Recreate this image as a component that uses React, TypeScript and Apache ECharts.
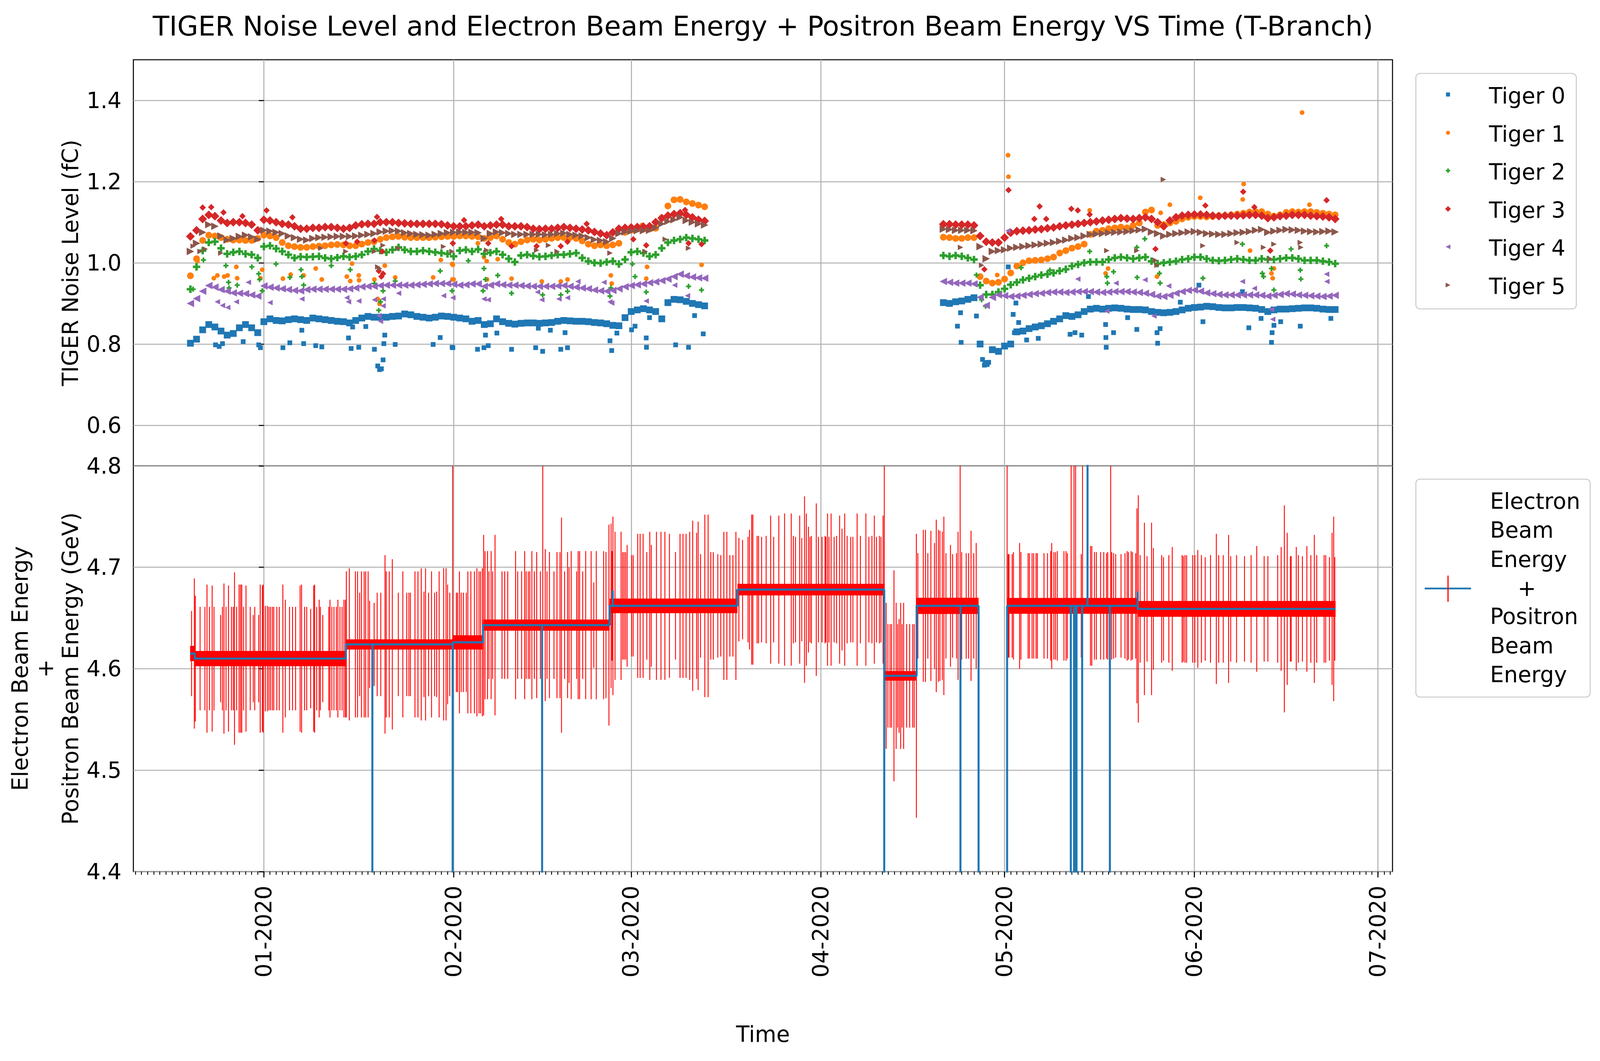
import React, { useEffect, useRef } from 'react';
import * as echarts from 'echarts';

// ---------- axis / tick data ----------
const XMIN = -21.32; // days since 2020-01-01
const XMAX = 184.37;
const MONTH_DAYS = [0, 31, 60, 91, 121, 152, 182];
const MONTH_LABELS = ['01-2020', '02-2020', '03-2020', '04-2020', '05-2020', '06-2020', '07-2020'];
const NOISE_TICKS = [0.6, 0.8, 1.0, 1.2, 1.4];
const ENERGY_TICKS = [4.4, 4.5, 4.6, 4.7, 4.8];

// ---------- top panel: TIGER noise (fC), one value per day ----------
const START_A = -12; // first day of first run
const START_B = 111; // first day of second run

const T0_A = [0.802,0.812,0.835,0.848,0.842,0.832,0.822,0.826,0.840,0.848,0.840,0.828,
  0.855,0.862,0.858,0.857,0.860,0.862,0.860,0.858,0.864,0.862,
  0.860,0.858,0.856,0.855,0.852,0.858,0.864,0.868,0.866,0.866,
  0.866,0.868,0.869,0.874,0.872,0.868,0.866,0.864,0.866,0.869,
  0.868,0.866,0.864,0.862,0.856,0.858,0.848,0.850,0.862,0.855,
  0.851,0.849,0.851,0.852,0.852,0.851,0.852,0.853,0.856,0.858,
  0.857,0.856,0.856,0.855,0.853,0.852,0.850,0.846,0.845,0.865,
  0.880,0.884,0.887,0.884,0.880,0.862,0.902,0.910,0.909,0.905,
  0.900,0.897,0.894];
const T1_A = [0.968,1.010,1.055,1.068,1.066,1.062,1.058,1.056,1.056,1.055,1.055,1.060,
  1.068,1.066,1.062,1.050,1.042,1.040,1.038,1.038,1.040,1.041,
  1.042,1.044,1.045,1.044,1.042,1.042,1.046,1.050,1.052,1.058,
  1.062,1.064,1.065,1.063,1.062,1.062,1.062,1.062,1.063,1.064,
  1.065,1.065,1.066,1.066,1.065,1.064,1.060,1.062,1.066,1.058,
  1.050,1.046,1.052,1.056,1.058,1.056,1.058,1.060,1.062,1.062,
  1.062,1.060,1.054,1.046,1.042,1.044,1.042,1.044,1.048,1.075,
  1.080,1.083,1.083,1.083,1.085,1.110,1.140,1.155,1.156,1.150,
  1.146,1.142,1.138];
const T2_A = [0.935,0.990,1.030,1.050,1.052,1.036,1.022,1.026,1.028,1.022,1.020,1.012,
  1.040,1.042,1.035,1.028,1.020,1.012,1.015,1.014,1.015,1.016,
  1.012,1.010,1.013,1.016,1.014,1.016,1.020,1.028,1.034,1.030,
  1.026,1.032,1.038,1.032,1.028,1.028,1.030,1.028,1.026,1.024,
  1.022,1.016,1.030,1.032,1.028,1.033,1.022,1.025,1.028,1.020,
  1.010,1.002,1.018,1.020,1.017,1.015,1.016,1.018,1.020,1.020,
  1.022,1.024,1.012,1.004,1.000,0.999,1.002,1.004,0.997,1.008,
  1.026,1.028,1.024,1.016,1.020,1.036,1.050,1.055,1.058,1.062,
  1.060,1.058,1.055];
const T3_A = [1.065,1.080,1.108,1.118,1.115,1.104,1.098,1.100,1.100,1.098,1.094,1.080,
  1.106,1.104,1.100,1.096,1.094,1.090,1.084,1.084,1.086,1.086,
  1.088,1.088,1.086,1.084,1.086,1.092,1.095,1.096,1.096,1.100,
  1.100,1.100,1.098,1.097,1.096,1.096,1.096,1.096,1.096,1.095,
  1.092,1.090,1.090,1.090,1.092,1.094,1.090,1.092,1.094,1.094,
  1.090,1.090,1.090,1.088,1.084,1.083,1.084,1.084,1.086,1.088,
  1.086,1.084,1.082,1.080,1.076,1.072,1.068,1.075,1.084,1.086,
  1.087,1.088,1.089,1.090,1.100,1.110,1.116,1.120,1.122,1.118,
  1.112,1.106,1.103];
const T4_A = [0.900,0.912,0.930,0.944,0.940,0.934,0.930,0.926,0.925,0.924,0.921,0.918,
  0.943,0.940,0.938,0.936,0.934,0.932,0.931,0.934,0.935,0.935,
  0.935,0.935,0.935,0.935,0.936,0.938,0.941,0.942,0.942,0.944,
  0.945,0.945,0.945,0.945,0.945,0.946,0.947,0.948,0.949,0.949,
  0.949,0.947,0.945,0.946,0.948,0.948,0.942,0.945,0.948,0.946,
  0.945,0.945,0.944,0.943,0.942,0.942,0.942,0.942,0.943,0.944,
  0.942,0.940,0.938,0.936,0.933,0.931,0.930,0.932,0.936,0.941,
  0.944,0.946,0.948,0.951,0.953,0.956,0.960,0.966,0.972,0.968,
  0.965,0.963,0.962];
const T5_A = [1.028,1.048,1.075,1.094,1.090,1.066,1.056,1.060,1.065,1.068,1.064,1.058,
  1.080,1.078,1.075,1.072,1.066,1.062,1.058,1.056,1.060,1.062,
  1.063,1.064,1.065,1.065,1.065,1.066,1.068,1.070,1.072,1.076,
  1.078,1.079,1.078,1.074,1.072,1.070,1.069,1.068,1.070,1.072,
  1.074,1.075,1.076,1.075,1.075,1.074,1.060,1.072,1.076,1.074,
  1.072,1.070,1.070,1.070,1.070,1.070,1.069,1.070,1.072,1.073,
  1.070,1.068,1.066,1.062,1.057,1.055,1.052,1.060,1.072,1.076,
  1.078,1.079,1.079,1.080,1.086,1.096,1.102,1.106,1.112,1.104,
  1.100,1.096,1.093];

const T0_B = [0.902,0.900,0.904,0.906,0.910,0.914,0.800,0.752,0.786,0.782,
  0.795,0.800,0.830,0.832,0.838,0.842,0.845,0.850,0.856,0.862,
  0.870,0.868,0.872,0.880,0.886,0.888,0.886,0.888,0.889,0.888,
  0.886,0.885,0.885,0.884,0.880,0.878,0.877,0.878,0.880,0.884,
  0.888,0.890,0.891,0.893,0.892,0.890,0.889,0.889,0.890,0.890,
  0.889,0.888,0.885,0.880,0.884,0.886,0.886,0.887,0.888,0.889,
  0.889,0.888,0.886,0.885,0.885];
const T1_B = [1.063,1.062,1.060,1.060,1.062,1.062,0.966,0.955,0.950,0.952,
  0.960,0.975,0.992,1.000,1.005,1.006,1.007,1.010,1.014,1.024,
  1.030,1.036,1.040,1.046,1.070,1.078,1.080,1.084,1.086,1.088,
  1.086,1.092,1.098,1.125,1.130,1.092,1.094,1.098,1.102,1.108,
  1.112,1.114,1.114,1.113,1.114,1.116,1.116,1.118,1.120,1.122,
  1.125,1.126,1.126,1.120,1.115,1.118,1.124,1.126,1.125,1.126,
  1.126,1.124,1.122,1.120,1.118];
const T2_B = [1.018,1.016,1.018,1.016,1.012,1.008,0.945,0.922,0.922,0.928,
  0.936,0.946,0.952,0.958,0.962,0.966,0.970,0.972,0.975,0.980,
  0.984,0.992,0.996,1.000,1.002,1.002,1.002,1.008,1.012,1.014,
  1.012,1.010,1.012,1.014,1.004,0.998,1.000,1.002,1.004,1.008,
  1.010,1.014,1.014,1.010,1.006,1.005,1.006,1.008,1.010,1.008,
  1.006,1.006,1.010,1.008,1.008,1.010,1.012,1.012,1.010,1.006,
  1.006,1.006,1.004,1.002,0.998];
const T3_B = [1.095,1.095,1.094,1.094,1.094,1.092,1.066,1.052,1.050,1.050,
  1.062,1.074,1.078,1.079,1.080,1.082,1.083,1.085,1.087,1.090,
  1.092,1.094,1.096,1.098,1.100,1.102,1.104,1.106,1.108,1.110,
  1.109,1.108,1.110,1.112,1.108,1.100,1.090,1.104,1.112,1.116,
  1.118,1.119,1.119,1.118,1.116,1.115,1.116,1.116,1.116,1.117,
  1.118,1.118,1.116,1.110,1.112,1.115,1.116,1.118,1.118,1.118,
  1.116,1.115,1.114,1.112,1.108];
const T4_B = [0.954,0.952,0.950,0.950,0.950,0.948,0.915,0.895,0.915,0.921,
  0.919,0.917,0.918,0.920,0.922,0.924,0.925,0.927,0.928,0.928,
  0.927,0.928,0.929,0.929,0.929,0.928,0.927,0.928,0.929,0.929,
  0.929,0.928,0.927,0.925,0.922,0.918,0.917,0.920,0.925,0.929,
  0.932,0.933,0.930,0.926,0.924,0.922,0.921,0.921,0.921,0.921,
  0.921,0.921,0.920,0.918,0.920,0.922,0.924,0.923,0.921,0.920,
  0.919,0.918,0.917,0.918,0.920];
const T5_B = [1.083,1.082,1.080,1.080,1.080,1.079,1.040,1.010,1.028,1.030,
  1.032,1.036,1.038,1.040,1.042,1.044,1.046,1.048,1.050,1.053,
  1.056,1.060,1.062,1.066,1.070,1.071,1.072,1.074,1.075,1.076,
  1.077,1.079,1.081,1.083,1.076,1.072,1.066,1.070,1.072,1.074,
  1.076,1.077,1.075,1.072,1.071,1.070,1.070,1.072,1.074,1.075,
  1.077,1.080,1.082,1.075,1.078,1.080,1.082,1.081,1.080,1.078,
  1.077,1.076,1.077,1.078,1.076];

// scattered readings away from each band: [day, fC]
const T0_OUT = [[-7.9,0.798],[-7.3,0.794],[-6.76,0.801],[-3.38,0.806],[-0.84,0.798],[-0.56,0.791],[3.11,0.791],[4.24,0.803],[6.2,0.834],[6.5,0.801],[8.47,0.796],[9.46,0.793],[13.83,0.815],[14.25,0.789],[14.5,0.842],[15.5,0.792],[16.65,0.843],[18.06,0.787],[18.6,0.746],[18.9,0.737],[19.2,0.739],[19.47,0.761],[19.6,0.801],[19.75,0.822],[21.45,0.799],[27.65,0.799],[28.8,0.816],[30.75,0.792],[30.87,0.791],[34.9,0.787],[35.95,0.791],[36.2,0.822],[36.65,0.796],[38.06,0.827],[40.46,0.787],[44.4,0.791],[44.83,0.839],[45.54,0.782],[46.8,0.834],[48.5,0.787],[49.2,0.828],[49.6,0.791],[56.54,0.808],[56.82,0.784],[57.67,0.827],[60.06,0.835],[60.63,0.844],[62.46,0.815],[62.5,0.792],[63.0,0.865],[67.26,0.798],[69.37,0.792],[70.36,0.870],[71.77,0.825],
  [113.3,0.844],[113.8,0.877],[113.9,0.804],[116.4,0.869],[117.4,0.762],[117.7,0.748],[118.4,0.755],[121.6,0.99],[122.4,0.873],[122.6,0.828],[123.3,0.853],[122.85,0.901],[124.6,0.81],[126.5,0.814],[131.7,0.824],[132.5,0.828],[133.6,0.822],[134.7,0.917],[137.5,0.848],[137.55,0.816],[137.6,0.792],[138.8,0.828],[141.1,0.865],[142.6,0.836],[145.9,0.828],[146.0,0.802],[146.4,0.838],[149.7,0.903],[152.75,0.945],[153.4,0.855],[159.85,0.929],[160.9,0.840],[162.9,0.863],[164.6,0.804],[164.7,0.828],[165.0,0.846],[166.1,0.855],[169.3,0.844],[174.3,0.863]];
const T1_OUT = [[-10.85,1.004],[-8.17,0.962],[-7.6,0.969],[-6.48,0.966],[-5.92,0.969],[-4.5,0.990],[-4.36,0.962],[-0.56,0.962],[-0.27,0.983],[3.11,0.961],[4.38,0.971],[6.5,0.969],[8.47,0.986],[9.46,0.959],[13.55,0.966],[14.11,0.955],[14.4,0.998],[15.5,0.969],[15.55,0.957],[18.06,0.959],[18.6,0.911],[18.9,0.899],[19.75,0.993],[21.45,0.964],[27.65,0.964],[28.9,1.007],[30.75,0.997],[30.8,0.959],[30.87,0.995],[31.0,0.959],[34.96,1.048],[35.95,1.014],[36.4,1.004],[36.45,0.959],[38.2,1.009],[40.46,0.961],[45.4,0.954],[48.5,0.954],[49.6,0.959],[56.68,0.969],[56.82,0.949],[61.76,1.093],[62.6,0.990],[62.46,0.961],[71.5,0.995],
  [119.8,0.970],[121.56,1.265],[121.64,1.212],[134.9,1.129],[137.5,0.974],[137.9,0.986],[145.9,0.966],[146.5,1.123],[148.0,1.143],[152.96,1.160],[159.9,1.156],[160.06,1.194],[161.1,1.030],[164.6,0.974],[164.8,0.962],[165.0,0.986],[169.6,1.370],[170.8,1.143]];
const T2_OUT = [[-11.56,0.935],[-9.87,1.007],[-6.2,0.993],[-5.77,0.952],[-5.69,0.938],[-4.36,0.945],[-1.97,0.990],[-0.84,0.973],[-0.7,0.959],[-0.27,0.931],[1.98,0.997],[4.24,0.964],[6.07,0.983],[6.2,0.966],[6.5,0.945],[11.01,0.993],[14.11,0.983],[18.06,0.949],[18.77,0.883],[19.05,0.904],[19.47,0.931],[21.45,0.955],[28.8,0.980],[30.75,0.931],[33.4,1.005],[35.95,0.986],[36.2,0.959],[35.8,0.931],[38.2,0.969],[40.46,0.925],[45.54,0.921],[48.5,0.921],[49.6,0.930],[56.68,0.938],[56.54,0.918],[60.2,0.997],[60.63,0.966],[62.46,0.928],[69.37,0.942],[71.49,0.933],
  [116.4,0.970],[117.25,0.909],[117.9,0.893],[123.7,0.988],[128.4,0.982],[134.9,1.028],[137.7,0.966],[137.8,0.950],[138.8,0.978],[142.6,1.038],[143.9,1.059],[142.65,0.964],[146.3,0.974],[146.4,0.950],[153.4,0.962],[159.85,1.046],[163.1,0.974],[163.3,0.966],[165.0,0.933],[164.6,0.986],[167.8,1.034],[169.3,0.982],[169.4,0.960],[173.6,1.042]];
const T3_OUT = [[-10.0,1.136],[-8.6,1.137],[-6.6,1.124],[-3.5,1.115],[0.43,1.129],[4.66,1.112],[13.4,1.048],[15.24,1.052],[18.06,1.055],[18.48,1.113],[18.77,0.980],[19.2,0.966],[19.47,0.973],[19.33,1.028],[30.87,1.048],[32.7,1.105],[36.65,1.048],[38.77,1.108],[40.46,1.041],[44.55,1.041],[48.5,1.041],[49.6,1.052],[52.73,1.096],[60.35,1.058],[62.46,1.043],[68.8,1.130],[69.37,1.048],[71.5,1.046],
  [117.7,0.984],[121.64,1.179],[125.86,1.108],[126.72,1.139],[127.8,1.108],[131.9,1.133],[132.96,1.129],[134.9,1.119],[145.65,1.034],[153.8,1.141],[159.98,1.175],[161.8,1.137],[164.4,1.030],[173.6,1.154]];
const T4_OUT = [[-7.6,0.904],[-6.76,0.895],[-5.9,0.890],[-4.5,0.904],[-2.53,0.952],[1.0,0.902],[6.2,0.911],[13.55,0.914],[13.83,0.904],[15.5,0.906],[18.06,0.909],[18.77,0.870],[19.05,0.856],[19.47,0.894],[19.5,0.911],[22.0,0.925],[29.35,0.919],[30.87,0.914],[35.95,0.911],[36.65,0.909],[44.7,0.928],[45.4,0.909],[48.2,0.911],[49.6,0.914],[51.3,0.954],[55.55,0.952],[56.54,0.904],[56.82,0.901],[62.46,0.906],[67.1,0.945],[69.2,0.919],
  [121.56,1.079],[132.96,0.960],[137.7,0.881],[139.2,0.950],[143.93,0.958],[145.4,0.869],[147.8,0.943],[159.85,0.954],[161.8,0.937],[164.6,0.885],[164.8,0.861],[173.6,0.972],[173.65,0.954]];
const T5_OUT = [[-11.56,1.041],[-10.43,1.028],[-9.58,1.034],[-7.04,1.024],[9.32,1.036],[13.4,1.028],[18.06,1.028],[18.6,0.990],[18.9,0.986],[19.47,1.043],[22.0,1.036],[29.35,1.040],[30.73,1.028],[36.4,1.031],[44.55,1.031],[46.5,1.043],[47.9,1.028],[56.54,1.024],[62.3,1.028],[65.56,1.058],[69.37,1.036],
  [113.8,1.038],[117.25,0.994],[137.7,1.030],[142.6,1.030],[145.65,1.006],[145.9,0.994],[146.94,1.205],[153.4,1.042],[158.99,1.050],[163.3,1.038],[164.4,1.010],[165.0,1.046],[169.3,1.050],[169.4,1.038]];

const TIGER_NAMES = ['Tiger 0', 'Tiger 1', 'Tiger 2', 'Tiger 3', 'Tiger 4', 'Tiger 5'];
const TIGER_COLORS = ['#1f77b4', '#ff7f0e', '#2ca02c', '#d62728', '#9467bd', '#8c564b'];

// ---------- bottom panel: beam energy (GeV) ----------
// runs of constant energy: start day, end day, value, half-height of the dense red band
const SEG_START = [-12.05, -11.3, 13.4, 30.85, 35.8, 56.48, 77.36, 101.35, 106.63, 116.75, 121.41, 142.74];
const SEG_END = [-11.3, 13.4, 30.85, 35.8, 56.48, 77.36, 101.35, 106.63, 116.75, 121.41, 142.74, 175.07];
const SEG_VALUE = [4.615, 4.610, 4.624, 4.626, 4.643, 4.662, 4.678, 4.593, 4.662, 4.30, 4.662, 4.659];
const SEG_BAND = [0.0075, 0.0075, 0.005, 0.007, 0.0055, 0.0072, 0.0057, 0.0047, 0.008, 0, 0.0078, 0.0078];

// single excursions of the energy line: day, value reached
const SPIKE_DAY = [17.72, 30.84, 45.45, 57.0, 101.34, 113.79, 131.82, 132.35, 132.55, 132.75, 133.67, 134.55, 138.2, 142.75];
const SPIKE_TO = [4.3, 4.3, 4.3, 4.677, 4.3, 4.3, 4.3, 4.3, 4.3, 4.3, 4.3, 4.9, 4.3, 4.676];
// error bars that run off the top of the axes
const RED_SPIKE_DAY = [30.85, 45.56, 101.35, 113.74, 121.41, 131.87, 132.34, 132.6, 133.73, 138.33];

// long error bars: [day, half-width GeV]
const ERR_BARS = [
  [-11.81,0.042],[-11.36,0.074],[-11.2,0.062],[-10.42,0.051],[-9.63,0.051],[-9.29,0.073],[-8.9,0.051],[-8.45,0.072],[-8.15,0.051],[-7.07,0.043],[-6.77,0.051],[-6.52,0.074],[-6.18,0.051],[-5.78,0.072],[-5.29,0.051],[-4.99,0.051],[-4.8,0.085],[-4.45,0.051],[-4.05,0.073],[-3.81,0.073],[-3.61,0.073],[-3.32,0.051],[-2.92,0.072],[-2.23,0.051],[-1.73,0.043],[-1.49,0.051],[-0.85,0.043],[-0.6,0.073],[-0.25,0.072],[-0.11,0.073],[0.24,0.052],[0.58,0.052],[0.83,0.051],[1.08,0.051],[1.38,0.051],[1.62,0.051],[2.12,0.051],[2.51,0.051],[3.1,0.073],[3.5,0.058],[4.19,0.051],[4.68,0.051],[5.18,0.051],[5.92,0.072],[6.16,0.073],[6.66,0.051],[7.0,0.051],[7.64,0.049],[8.14,0.072],[8.29,0.073],[8.63,0.051],[9.03,0.058],[9.23,0.051],[9.62,0.043],[10.61,0.051],[10.8,0.058],[11.1,0.051],[11.45,0.051],[11.84,0.051],[12.09,0.058],[12.43,0.051],[12.78,0.051],[13.08,0.058],[13.32,0.058],
  [13.47,0.072],[13.96,0.075],[14.95,0.072],[15.3,0.072],[15.64,0.051],[15.94,0.072],[16.38,0.072],[16.63,0.072],[17.03,0.072],[17.27,0.043],[18.01,0.041],[18.51,0.051],[19.1,0.051],[19.79,0.088],[19.99,0.072],[20.48,0.072],[20.98,0.084],[21.96,0.051],[22.7,0.072],[23.34,0.051],[23.69,0.051],[23.94,0.051],[24.68,0.072],[25.17,0.072],[25.71,0.075],[26.16,0.052],[26.41,0.075],[26.9,0.051],[27.39,0.072],[27.89,0.051],[28.23,0.052],[28.63,0.072],[29.37,0.075],[29.76,0.075],[30.01,0.059],[30.36,0.051],
  [31.44,0.049],[31.64,0.049],[31.94,0.070],[32.23,0.049],[32.58,0.049],[33.07,0.049],[33.32,0.070],[33.81,0.070],[34.4,0.070],[34.8,0.073],[35.14,0.070],[35.39,0.070],[35.69,0.073],
  [35.9,0.089],[36.13,0.073],[36.53,0.073],[36.77,0.053],[37.12,0.073],[37.37,0.053],[37.76,0.089],[38.9,0.053],[39.34,0.053],[39.84,0.053],[41.12,0.073],[41.46,0.053],[42.1,0.053],[42.6,0.073],[42.85,0.053],[43.19,0.053],[43.44,0.053],[43.78,0.073],[44.18,0.053],[44.57,0.072],[45.17,0.053],[45.96,0.075],[46.25,0.053],[46.65,0.072],[47.39,0.053],[47.88,0.072],[48.38,0.072],[48.62,0.106],[49.12,0.053],[49.61,0.072],[49.86,0.057],[50.2,0.073],[51.09,0.053],[51.34,0.073],[51.58,0.073],[52.08,0.053],[52.57,0.073],[53.46,0.073],[53.9,0.042],[54.3,0.073],[55.5,0.073],[55.88,0.072],[56.37,0.099],
  [56.72,0.081],[56.87,0.054],[57.02,0.088],[57.36,0.073],[58.35,0.073],[58.6,0.053],[58.84,0.053],[59.09,0.053],[59.34,0.060],[60.08,0.050],[60.33,0.050],[61.07,0.071],[61.46,0.071],[61.95,0.071],[62.55,0.053],[63.04,0.073],[63.29,0.060],[64.13,0.073],[64.87,0.073],[65.51,0.073],[66.25,0.071],[67.24,0.053],[67.98,0.071],[68.47,0.071],[68.97,0.071],[69.56,0.073],[70.05,0.084],[70.69,0.072],[70.94,0.083],[71.33,0.051],[72.03,0.090],[72.57,0.090],[73.01,0.053],[73.41,0.053],[74.15,0.051],[74.64,0.050],[75.14,0.073],[75.63,0.073],[76.12,0.050],[76.62,0.050],[77.11,0.073],
  [77.6,0.051],[78.2,0.049],[79.09,0.052],[79.33,0.059],[79.68,0.074],[79.88,0.074],[80.57,0.053],[80.81,0.053],[81.31,0.052],[82.05,0.053],[82.79,0.073],[83.28,0.052],[84.12,0.073],[85.06,0.075],[86.15,0.075],[86.49,0.053],[86.84,0.052],[87.53,0.073],[87.87,0.051],[88.32,0.092],[88.61,0.075],[88.96,0.062],[89.21,0.052],[89.45,0.053],[90.24,0.085],[90.59,0.052],[91.18,0.052],[91.67,0.053],[91.82,0.052],[92.07,0.075],[92.32,0.052],[92.66,0.075],[93.16,0.052],[93.55,0.053],[94.05,0.073],[94.44,0.060],[94.88,0.075],[95.28,0.053],[95.87,0.052],[96.22,0.052],[96.91,0.075],[97.45,0.053],[98.34,0.075],[98.83,0.052],[99.33,0.053],[99.72,0.073],[100.07,0.052],[100.56,0.053],[100.81,0.052],[101.15,0.073],
  [101.65,0.072],[101.94,0.051],[102.29,0.051],[102.54,0.051],[102.93,0.104],[103.28,0.072],[103.52,0.051],[103.77,0.056],[104.02,0.072],[104.26,0.051],[104.51,0.072],[105.0,0.051],[105.5,0.051],[105.99,0.051],[106.24,0.051],[106.59,0.14],
  [106.83,0.052],[107.72,0.075],[108.07,0.075],[108.46,0.052],[108.96,0.074],[109.55,0.062],[109.84,0.085],[110.19,0.075],[110.44,0.074],[110.83,0.073],[111.08,0.088],[111.42,0.052],[112.16,0.060],[112.51,0.051],[113.15,0.052],[113.4,0.073],[113.99,0.053],[114.73,0.052],[115.13,0.052],[115.52,0.074],[115.97,0.052],[116.36,0.062],
  [121.59,0.051],[121.72,0.051],[122.24,0.051],[122.45,0.053],[123.45,0.062],[123.67,0.053],[124.84,0.052],[125.06,0.052],[125.49,0.052],[125.75,0.052],[126.14,0.052],[126.36,0.052],[127.44,0.052],[128.01,0.052],[128.53,0.054],[128.7,0.062],[129.05,0.053],[129.31,0.053],[129.61,0.054],[130.7,0.054],[131.04,0.054],[131.26,0.052],[133.52,0.051],[135.03,0.059],[135.25,0.059],[135.68,0.053],[135.99,0.053],[136.68,0.053],[137.2,0.053],[137.64,0.052],[137.85,0.053],[138.5,0.053],[138.81,0.052],[139.15,0.051],[140.02,0.051],[140.67,0.052],[141.02,0.054],[141.24,0.053],[141.67,0.054],[141.89,0.053],[142.41,0.052],[142.62,0.096],
  [142.84,0.112],[143.14,0.053],[143.84,0.085],[144.27,0.052],[145.01,0.085],[145.31,0.060],[146.66,0.053],[146.96,0.051],[147.83,0.053],[148.39,0.061],[150.0,0.053],[150.21,0.052],[150.47,0.053],[150.74,0.053],[151.73,0.053],[152.08,0.053],[152.56,0.058],[153.16,0.053],[153.77,0.051],[154.64,0.053],[155.59,0.074],[155.98,0.053],[156.72,0.053],[157.59,0.073],[157.94,0.052],[158.89,0.053],[160.19,0.052],[161.27,0.053],[162.19,0.062],[163.4,0.052],[164.01,0.052],[165.61,0.053],[166.18,0.061],[166.7,0.102],[167.17,0.075],[167.69,0.052],[167.82,0.052],[168.65,0.061],[168.99,0.053],[169.65,0.052],[170.38,0.062],[171.03,0.053],[171.6,0.073],[171.99,0.053],[173.2,0.053],[173.46,0.053],[174.07,0.051],[174.5,0.075],[174.76,0.091],[174.94,0.051]
];

// ---------- layout (reference pixels, rescaled to the real viewport) ----------
const REF_W = 4727;
const REF_H = 2717;
const FONT = 'DejaVu Sans';

function valueAt(d: number): number {
  for (let i = 0; i < SEG_START.length; i++) {
    if (d >= SEG_START[i] && d < SEG_END[i]) return SEG_VALUE[i];
  }
  return SEG_VALUE[SEG_VALUE.length - 1];
}

function clampE(v: number) {
  return Math.max(4.4, Math.min(4.8, v));
}

function buildOption(sx: number, sy: number) {
  const f = Math.min(sx, sy);
  const X = (v: number) => v * sx;
  const Y = (v: number) => v * sy;
  const FS = 65 * f;

  const GL = X(394), GW = X(3720);
  const G0T = Y(153), G0H = Y(1040);
  const G1T = Y(1193), G1H = Y(1039);

  const mains = [
    [T0_A, T0_B], [T1_A, T1_B], [T2_A, T2_B], [T3_A, T3_B], [T4_A, T4_B], [T5_A, T5_B]
  ];
  const outs = [T0_OUT, T1_OUT, T2_OUT, T3_OUT, T4_OUT, T5_OUT];
  const symbols: any[] = [
    'rect', 'circle', 'path://M4,0H8V4H12V8H8V12H4V8H0V4H4Z', 'diamond',
    'path://M0,5L10,0L10,10Z', 'path://M10,5L0,0L0,10Z'
  ];
  // the daily readings stand for a dense run of hourly markers, so they are drawn larger
  const bandSizes = [20, 20, 22, 26, 22, 22].map((s) => s * f);
  const singleSizes = [14, 14, 15, 19, 16, 16].map((s) => s * f);

  const scatterSeries = mains.map((m, k) => {
    const data: number[][] = [];
    m[0].forEach((v, i) => data.push([START_A + i, v]));
    m[1].forEach((v, i) => data.push([START_B + i, v]));
    const nMain = data.length;
    outs[k].forEach((p) => data.push([p[0], p[1]]));
    return {
      type: 'scatter', name: TIGER_NAMES[k], xAxisIndex: 0, yAxisIndex: 0,
      data, symbol: symbols[k],
      symbolSize: (val: any, params: any) => (params.dataIndex < nMain ? bandSizes[k] : singleSizes[k]),
      itemStyle: { color: TIGER_COLORS[k], opacity: 1 }, silent: true, z: 2
    };
  });

  const bandData = SEG_START.map((s, i) => [s, SEG_END[i], SEG_VALUE[i], SEG_BAND[i]]).filter((r) => r[3] > 0);
  const errData = ERR_BARS.map((b) => {
    const c = valueAt(b[0]);
    return [b[0], c - b[1], c + b[1]];
  });
  const spikeData = RED_SPIKE_DAY.map((d) => [d, valueAt(d - 0.001), 4.9]);

  const bluePath: number[][] = [];
  for (let i = 0; i < SEG_START.length; i++) {
    const c = SEG_VALUE[i];
    bluePath.push([SEG_START[i], c]);
    SPIKE_DAY.forEach((d, k) => {
      if (d >= SEG_START[i] && d < SEG_END[i]) {
        bluePath.push([d, c], [d, SPIKE_TO[k]], [d, c]);
      }
    });
    bluePath.push([SEG_END[i], c]);
  }

  const lineRender = (params: any, api: any) => {
    const d = api.value(0);
    const p1 = api.coord([d, clampE(api.value(1))]);
    const p2 = api.coord([d, clampE(api.value(2))]);
    return {
      type: 'line',
      shape: { x1: p1[0], y1: p1[1], x2: p2[0], y2: p2[1] },
      style: { stroke: '#ff0000', lineWidth: 2.6 * f }
    };
  };

  const gridLine = { show: true, lineStyle: { color: '#b0b0b0', width: 3 * f, type: 'solid' } };
  const tickLine = { color: '#000', width: 3 * f };
  const axisLabelBase = { color: '#000', fontSize: FS, fontFamily: FONT };

  // legend graphics
  const LX = X(4278);
  const rows = [242, 340, 437, 535, 632, 730].map(Y);
  const m = f;
  const legendMarkers: any[] = [
    { type: 'rect', shape: { x: LX - 6 * m, y: rows[0] - 6 * m, width: 12 * m, height: 12 * m }, style: { fill: TIGER_COLORS[0] } },
    { type: 'circle', shape: { cx: LX, cy: rows[1], r: 6 * m }, style: { fill: TIGER_COLORS[1] } },
    { type: 'polygon', shape: { points: [[-2.2, -6.5], [2.2, -6.5], [2.2, -2.2], [6.5, -2.2], [6.5, 2.2], [2.2, 2.2], [2.2, 6.5], [-2.2, 6.5], [-2.2, 2.2], [-6.5, 2.2], [-6.5, -2.2], [-2.2, -2.2]].map((p) => [LX + p[0] * m, rows[2] + p[1] * m]) }, style: { fill: TIGER_COLORS[2] } },
    { type: 'polygon', shape: { points: [[-8.5, 0], [0, -8.5], [8.5, 0], [0, 8.5]].map((p) => [LX + p[0] * m, rows[3] + p[1] * m]) }, style: { fill: TIGER_COLORS[3] } },
    { type: 'polygon', shape: { points: [[-7, 0], [7, -7], [7, 7]].map((p) => [LX + p[0] * m, rows[4] + p[1] * m]) }, style: { fill: TIGER_COLORS[4] } },
    { type: 'polygon', shape: { points: [[7, 0], [-7, -7], [-7, 7]].map((p) => [LX + p[0] * m, rows[5] + p[1] * m]) }, style: { fill: TIGER_COLORS[5] } }
  ];
  const txt = (text: string, x: number, y: number, size: number, align: string, rotation = 0) => ({
    type: 'text', x, y, rotation,
    style: {
      text, fontSize: size, fontFamily: FONT, fill: '#000',
      align, verticalAlign: 'middle', textAlign: align, textVerticalAlign: 'middle'
    }
  });
  const legendTexts = TIGER_NAMES.map((n, i) => txt(n, X(4399), rows[i] + 4 * f, FS, 'left'));
  const beamLines = ['Electron', 'Beam', 'Energy', '+', 'Positron', 'Beam', 'Energy'];
  const beamY = [1280, 1354, 1429, 1503, 1575, 1650, 1724];
  const beamTexts = beamLines.map((t, i) =>
    t === '+' ? txt(t, X(4511), Y(beamY[i]) + 4 * f, FS, 'center') : txt(t, X(4402), Y(beamY[i]) + 4 * f, FS, 'left'));

  const graphic: any[] = [
    txt('TIGER Noise Level and Electron Beam Energy + Positron Beam Energy VS Time (T-Branch)', X(2254), Y(67), 80 * f, 'center'),
    txt('TIGER Noise Level (fC)', X(208), Y(673), FS, 'center', Math.PI / 2),
    txt('Electron Beam Energy', X(60), Y(1712), FS, 'center', Math.PI / 2),
    txt('+', X(134), Y(1712), FS, 'center', Math.PI / 2),
    txt('Positron Beam Energy (GeV)', X(208), Y(1712), FS, 'center', Math.PI / 2),
    txt('Time', X(2254), Y(2648), FS, 'center'),
    { type: 'rect', shape: { x: X(4183), y: Y(188), width: X(474), height: Y(603), r: 12 * f }, style: { fill: 'rgba(255,255,255,0.8)', stroke: '#cccccc', lineWidth: 3 * f } },
    ...legendMarkers,
    ...legendTexts,
    { type: 'rect', shape: { x: X(4183), y: Y(1227), width: X(515), height: Y(558), r: 12 * f }, style: { fill: 'rgba(255,255,255,0.8)', stroke: '#cccccc', lineWidth: 3 * f } },
    { type: 'line', shape: { x1: X(4209), y1: Y(1507), x2: X(4346), y2: Y(1507) }, style: { stroke: '#1f77b4', lineWidth: 5 * f } },
    { type: 'line', shape: { x1: X(4278), y1: Y(1474), x2: X(4278), y2: Y(1541) }, style: { stroke: '#ff0000', lineWidth: 3.5 * f } },
    ...beamTexts
  ];

  const dayTicks: number[] = [];
  for (let d = Math.ceil(XMIN); d <= Math.floor(XMAX); d++) dayTicks.push(d);

  const monthFmt = (v: number) => {
    const idx = MONTH_DAYS.findIndex((mm) => Math.abs(mm - v) < 1e-6);
    return idx >= 0 ? MONTH_LABELS[idx] : '';
  };

  return {
    animation: false,
    backgroundColor: '#ffffff',
    textStyle: { fontFamily: FONT },
    grid: [
      { left: GL, top: G0T, width: GW, height: G0H, show: true, borderColor: '#000', borderWidth: 3 * f, backgroundColor: 'transparent', containLabel: false, outerBoundsMode: 'none' },
      { left: GL, top: G1T, width: GW, height: G1H, show: true, borderColor: '#000', borderWidth: 3 * f, backgroundColor: 'transparent', containLabel: false, outerBoundsMode: 'none' }
    ],
    xAxis: [
      {
        type: 'value', gridIndex: 0, min: XMIN, max: XMAX, position: 'bottom',
        axisLine: { show: false }, axisTick: { show: false, customValues: MONTH_DAYS },
        axisLabel: { show: false, customValues: MONTH_DAYS }, splitLine: gridLine
      },
      {
        type: 'value', gridIndex: 1, min: XMIN, max: XMAX, position: 'bottom',
        axisLine: { show: false },
        axisTick: { show: true, length: 15 * sy, lineStyle: tickLine, customValues: MONTH_DAYS },
        axisLabel: { ...axisLabelBase, show: true, customValues: MONTH_DAYS, rotate: 90, margin: 36 * sy, formatter: monthFmt },
        splitLine: gridLine
      },
      {
        type: 'value', gridIndex: 1, min: XMIN, max: XMAX, position: 'bottom',
        axisLine: { show: false },
        axisTick: { show: true, length: 8 * sy, lineStyle: { color: '#000', width: 2.5 * f }, customValues: dayTicks },
        axisLabel: { show: false, customValues: dayTicks }, splitLine: { show: false }
      }
    ],
    yAxis: [
      {
        type: 'value', gridIndex: 0, min: 0.5, max: 1.5,
        axisLine: { show: false },
        axisTick: { show: true, length: 15 * sx, lineStyle: tickLine, customValues: NOISE_TICKS },
        axisLabel: { ...axisLabelBase, customValues: NOISE_TICKS, margin: 35 * sx, formatter: (v: number) => v.toFixed(1) },
        splitLine: gridLine
      },
      {
        type: 'value', gridIndex: 1, min: 4.4, max: 4.8,
        axisLine: { show: false },
        axisTick: { show: true, length: 15 * sx, lineStyle: tickLine, customValues: ENERGY_TICKS },
        axisLabel: { ...axisLabelBase, customValues: ENERGY_TICKS, margin: 35 * sx, formatter: (v: number) => v.toFixed(1) },
        splitLine: gridLine
      }
    ],
    series: [
      ...scatterSeries,
      {
        type: 'custom', name: 'band', xAxisIndex: 1, yAxisIndex: 1, data: bandData, silent: true, z: 3,
        renderItem: (params: any, api: any) => {
          const p1 = api.coord([api.value(0), api.value(2) + api.value(3)]);
          const p2 = api.coord([api.value(1), api.value(2) - api.value(3)]);
          return { type: 'rect', shape: { x: p1[0], y: p1[1], width: p2[0] - p1[0], height: p2[1] - p1[1] }, style: { fill: '#ff0000' } };
        }
      },
      { type: 'custom', name: 'err', xAxisIndex: 1, yAxisIndex: 1, data: errData, silent: true, z: 3, renderItem: lineRender },
      { type: 'custom', name: 'errSpike', xAxisIndex: 1, yAxisIndex: 1, data: spikeData, silent: true, z: 3, renderItem: lineRender },
      {
        type: 'line', name: 'energy', xAxisIndex: 1, yAxisIndex: 1, data: bluePath, showSymbol: false, symbol: 'none',
        lineStyle: { color: '#1f77b4', width: 6 * f }, clip: true, silent: true, z: 4
      }
    ],
    graphic
  };
}

export default function App() {
  const ref = useRef<HTMLDivElement>(null);
  useEffect(() => {
    const el = ref.current;
    if (!el) return;
    const w = el.clientWidth || window.innerWidth || REF_W;
    const h = el.clientHeight || window.innerHeight || REF_H;
    const chart = echarts.init(el, null, { renderer: 'svg', width: w, height: h });
    chart.setOption(buildOption(w / REF_W, h / REF_H) as any);
    return () => chart.dispose();
  }, []);
  return (
    <div
      ref={ref}
      style={{ position: 'fixed', left: 0, top: 0, width: '100vw', height: '100vh', background: '#ffffff', overflow: 'hidden' }}
    />
  );
}
